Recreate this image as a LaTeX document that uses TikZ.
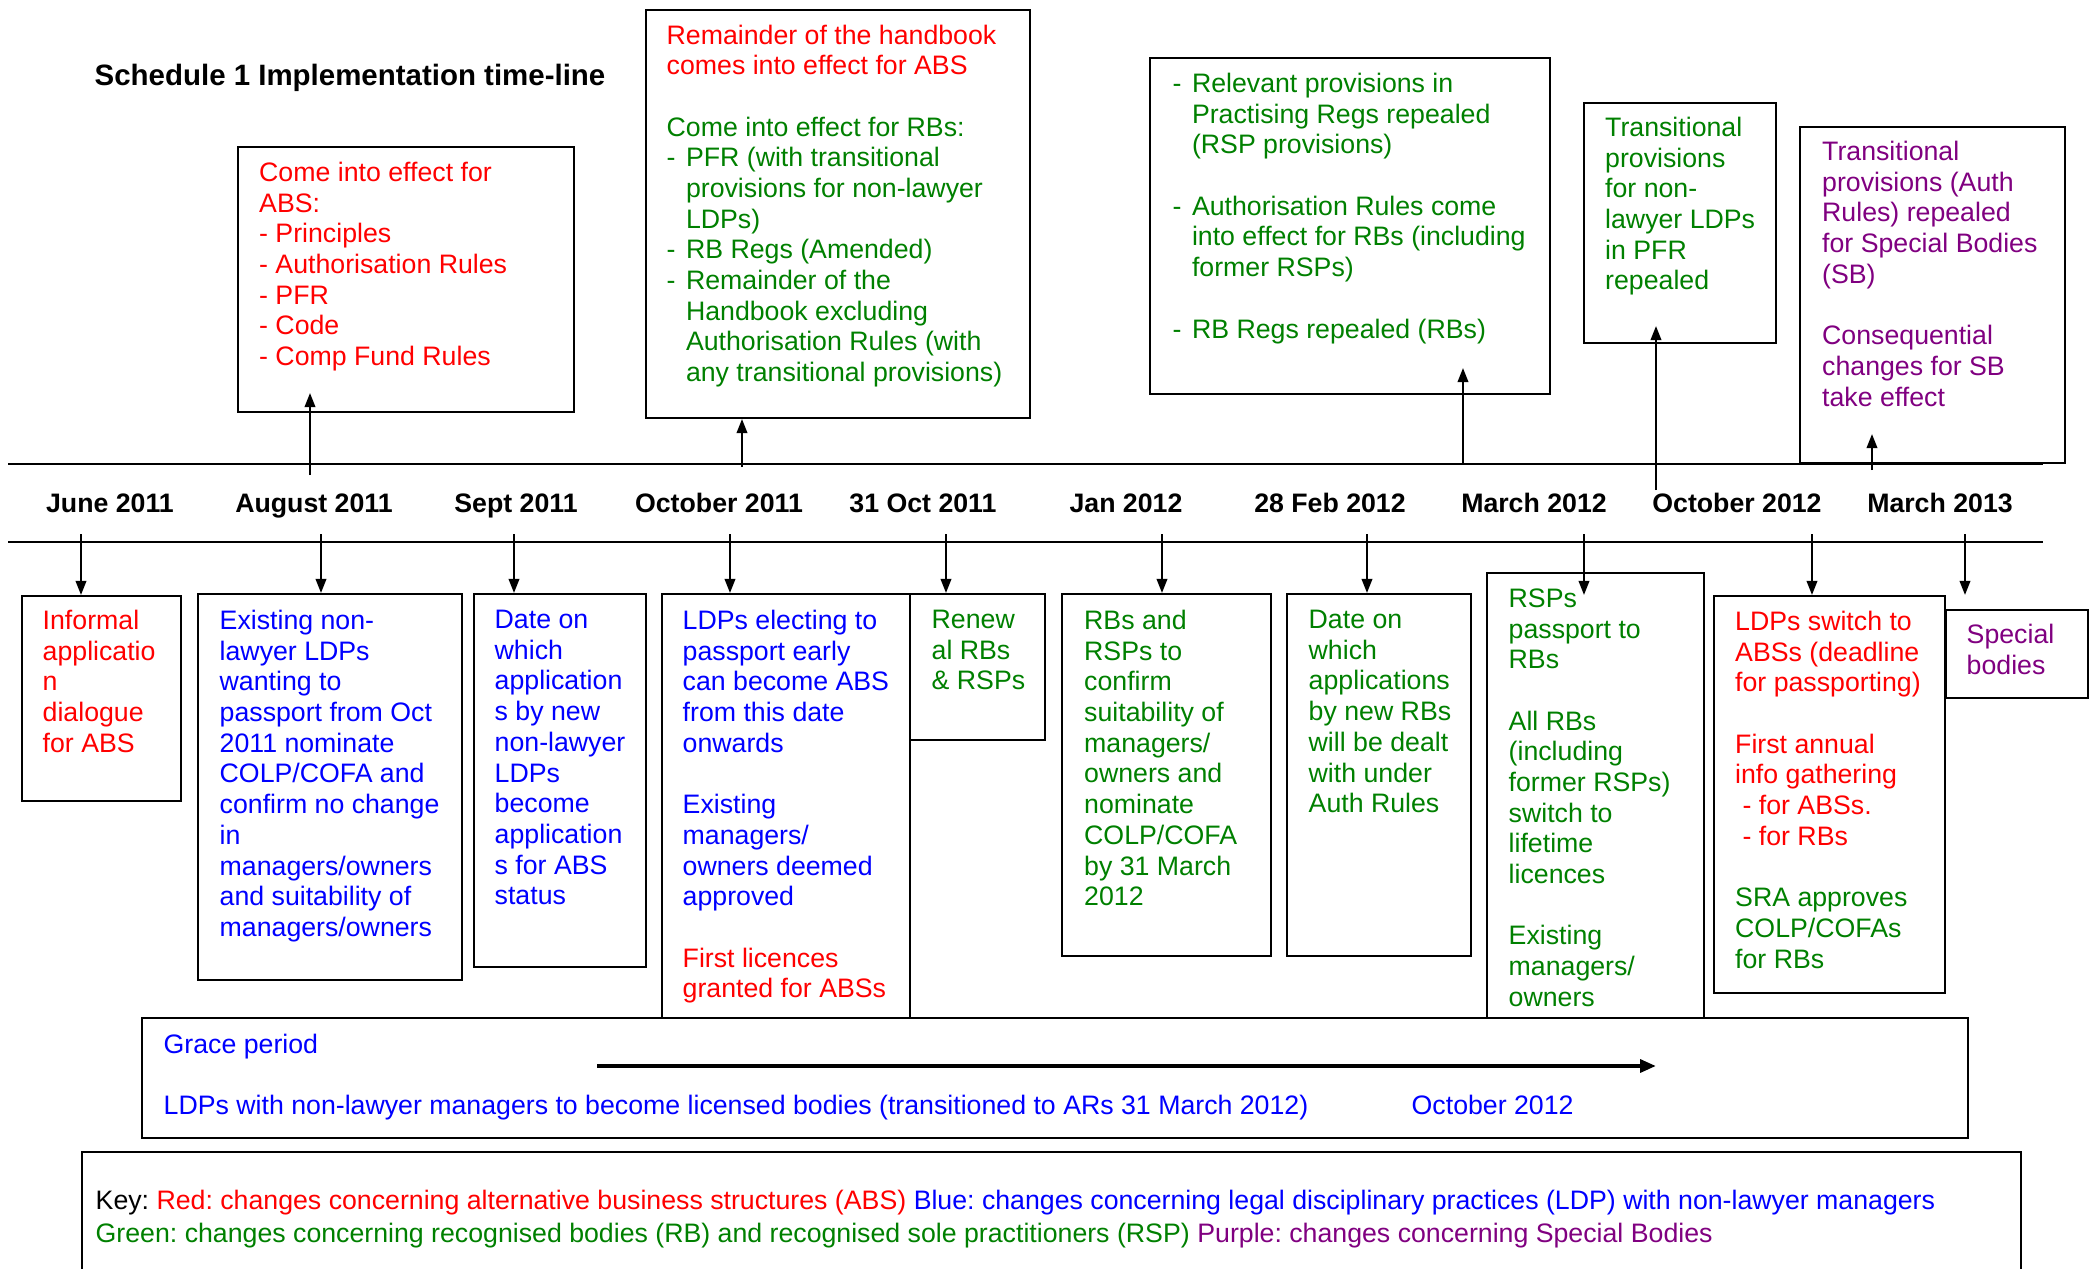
\documentclass[tikz,border=0pt]{standalone}
\usepackage{fontspec}
\setmainfont{Liberation Sans}
\usepackage{xcolor}
\usepackage{tikz}
\usetikzlibrary{arrows.meta,calc,fit}
\definecolor{absred}{RGB}{255,0,0}
\definecolor{ldpblue}{RGB}{0,0,255}
\definecolor{rbgreen}{RGB}{0,128,0}
\definecolor{sbpurple}{RGB}{128,0,128}
\frenchspacing
\newcommand{\lstdash}{\makebox[5.5pt][l]{-}}
\newcommand{\lstind}{\hspace*{5.5pt}}
\tikzset{
  tbox/.style={draw, line width=0.6pt, inner sep=0pt},
  txt/.style={anchor=north west, inner sep=0pt, align=left, yshift=0.85pt,
              font=\fontsize{7.6}{8.73}\selectfont},
  datelbl/.style={anchor=base, inner sep=0pt, font=\fontsize{7.6}{8.73}\selectfont\bfseries},
  tline/.style={line width=0.6pt},
  arr/.style={-{Triangle[length=4pt,width=3pt]}, line width=0.6pt},
  bigarr/.style={-{Triangle[length=4.5pt,width=3.6pt]}, line width=1.1pt}
}

\begin{document}
\begin{tikzpicture}[x=0.1mm, y=-0.1mm]
    \useasboundingbox (0,0) rectangle (2098,1269);
    \node[anchor=base west, inner sep=0pt, font=\fontsize{8.38}{9.6}\selectfont\bfseries] (title) at (94,85) {Schedule 1 Implementation time-line};

    % time-line
    \coordinate (l1a) at (8,464);   \coordinate (l1b) at (2043,464);
    \coordinate (l2a) at (8,542);   \coordinate (l2b) at (2043,542);
    \draw[tline] (l1a) -- (l1b);
    \draw[tline] (l2a) -- (l2b);
    \foreach \i/\x/\d in {1/110/June 2011, 2/314/August 2011, 3/516/Sept 2011,
        4/719/October 2011, 5/923/31 Oct 2011, 6/1126/Jan 2012, 7/1330/28 Feb 2012,
        8/1534/March 2012, 9/1737/October 2012, 10/1940/March 2013}
      \node[datelbl] (d\i) at (\x,512.5) {\d};

    % boxes above the line
    \node[tbox, fit={(238,147) (574,412)}] (ta) {};
    \node[txt, text=absred] (tat) at (258.5,164.5) {Come into effect for\\ABS:\\- Principles\\- Authorisation Rules\\- PFR\\- Code\\- Comp Fund Rules};
    \node[tbox, fit={(646,10) (1030,418)}] (tb) {};
    \node[txt, text=rbgreen] (tbt) at (666,27) {\textcolor{absred}{Remainder of the handbook}\\\textcolor{absred}{comes into effect for ABS}\\[8.73pt]Come into effect for RBs:\\\lstdash PFR (with transitional\\\lstind provisions for non-lawyer\\\lstind LDPs)\\\lstdash RB Regs (Amended)\\\lstdash Remainder of the\\\lstind Handbook excluding\\\lstind Authorisation Rules (with\\\lstind any transitional provisions)};
    \node[tbox, fit={(1150,58) (1550,394)}] (tc) {};
    \node[txt, text=rbgreen] (tct) at (1172,75.5) {\lstdash Relevant provisions in\\\lstind Practising Regs repealed\\\lstind (RSP provisions)\\[8.73pt]\lstdash Authorisation Rules come\\\lstind into effect for RBs (including\\\lstind former RSPs)\\[8.73pt]\lstdash RB Regs repealed (RBs)};
    \node[tbox, fit={(1584,103) (1776,343)}] (td) {};
    \node[txt, text=rbgreen] (tdt) at (1604.5,119.5) {Transitional\\provisions\\for non-\\lawyer LDPs\\in PFR\\repealed};
    \node[tbox, fit={(1800,127) (2065,463)}] (te) {};
    \node[txt, text=sbpurple] (tet) at (1821.5,143.5) {Transitional\\provisions (Auth\\Rules) repealed\\for Special Bodies\\(SB)\\[8.73pt]Consequential\\changes for SB\\take effect};

    \coordinate (u1) at (310,475);
    \coordinate (u2) at (742,467);
    \coordinate (u3) at (1463,463);
    \coordinate (u4) at (1656,490);
    \coordinate (u5) at (1872,470);
    \draw[arr] (u1) -- ($(u1 |- ta.south)+(0,-20)$);
    \draw[arr] (u2) -- (u2 |- tb.south);
    \draw[arr] (u3) -- ($(u3 |- tc.south)+(0,-27)$);
    \draw[arr] (u4) -- ($(u4 |- td.south)+(0,-18)$);
    \draw[arr] (u5) -- ($(u5 |- te.south)+(0,-30)$);

    % boxes below the line
    \node[tbox, fit={(22,596) (181,801)}] (b1) {};
    \node[txt, text=absred] (b1t) at (42,612.5) {Informal\\applicatio\\n\\dialogue\\for ABS};
    \node[tbox, fit={(198,594) (462,980)}] (b2) {};
    \node[txt, text=ldpblue] (b2t) at (219,612.5) {Existing non-\\lawyer LDPs\\wanting to\\passport from Oct\\2011 nominate\\COLP/COFA and\\confirm no change\\in\\managers/owners\\and suitability of\\managers/owners};
    \node[tbox, fit={(474,594) (646,967)}] (b3) {};
    \node[txt, text=ldpblue] (b3t) at (494,612.5) {Date on\\which\\application\\s by new\\non-lawyer\\LDPs\\become\\application\\s for ABS\\status};
    \node[tbox, fit={(662,594) (910,1018)}] (b4) {};
    \node[txt, text=ldpblue] (b4t) at (682,612.5) {LDPs electing to\\passport early\\can become ABS\\from this date\\onwards\\[8.73pt]Existing\\managers/\\owners deemed\\approved\\[8.73pt]\textcolor{absred}{First licences}\\\textcolor{absred}{granted for ABSs}};
    \node[tbox, fit={(910,594) (1045,740)}] (b5) {};
    \node[txt, text=rbgreen] (b5t) at (931,612.5) {Renew\\al RBs\\\& RSPs};
    \node[tbox, fit={(1062,594) (1271,956)}] (b6) {};
    \node[txt, text=rbgreen] (b6t) at (1083.5,612.5) {RBs and\\RSPs to\\confirm\\suitability of\\managers/\\owners and\\nominate\\COLP/COFA\\by 31 March\\2012};
    \node[tbox, fit={(1287,594) (1471,956)}] (b7) {};
    \node[txt, text=rbgreen] (b7t) at (1308,612.5) {Date on\\which\\applications\\by new RBs\\will be dealt\\with under\\Auth Rules};
    \node[tbox, fit={(1487,573) (1704,1018)}] (b8) {};
    \node[txt, text=rbgreen] (b8t) at (1508,591) {RSPs\\passport to\\RBs\\[8.73pt]All RBs\\(including\\former RSPs)\\switch to\\lifetime\\licences\\[8.73pt]Existing\\managers/\\owners};
    \node[tbox, fit={(1714,596) (1945,993)}] (b9) {};
    \node[txt, text=absred] (b9t) at (1734.5,613.5) {LDPs switch to\\ABSs (deadline\\for passporting)\\[8.73pt]First annual\\info gathering\\\hspace*{2.1pt}- for ABSs.\\\hspace*{2.1pt}- for RBs\\[8.73pt]\textcolor{rbgreen}{SRA approves}\\\textcolor{rbgreen}{COLP/COFAs}\\\textcolor{rbgreen}{for RBs}};
    \node[tbox, fit={(1946,610) (2088,698)}] (b10) {};
    \node[txt, text=sbpurple] (b10t) at (1966,626.5) {Special\\bodies};

    \foreach \i/\x in {1/81,2/321,3/514,4/730,5/946,6/1162,7/1367,8/1584,9/1812,10/1965}
      \coordinate (s\i) at (\x,534);
    \foreach \i in {1,...,7,9}
      \draw[arr] (s\i) -- (s\i |- b\i.north);
    \draw[arr] (s8) -- ($(s8 |- b8.north)+(0,23)$);
    \draw[arr] (s10) -- ($(s10 |- b10.north)+(0,-14)$);

    % grace period
    \node[tbox, fit={(142,1018) (1968,1138)}] (grace) {};
    \node[txt, text=ldpblue] (gracet) at (163,1036.5) {Grace period};
    \coordinate (gs) at (597,1066);
    \coordinate (ge) at (1656,1066);
    \draw[bigarr] (gs) -- (ge);
    \node[txt, text=ldpblue] (gracel) at (163,1097.5) {LDPs with non-lawyer managers to become licensed bodies (transitioned to ARs 31 March 2012)};
    \node[txt, text=ldpblue] (gracer) at (1411,1097.5) {October 2012};

    % key
    \node[tbox, fit={(82,1152) (2021,1300)}] (keybox) {};
    \node[txt, font=\fontsize{7.6}{9.4}\selectfont] (keyt) at (95,1192.5) {Key: \textcolor{absred}{Red: changes concerning alternative business structures (ABS)} \textcolor{ldpblue}{Blue: changes concerning legal disciplinary practices (LDP) with non-lawyer managers}\\\textcolor{rbgreen}{Green: changes concerning recognised bodies (RB) and recognised sole practitioners (RSP)} \textcolor{sbpurple}{Purple: changes concerning Special Bodies}};
  \end{tikzpicture}
\end{document}
